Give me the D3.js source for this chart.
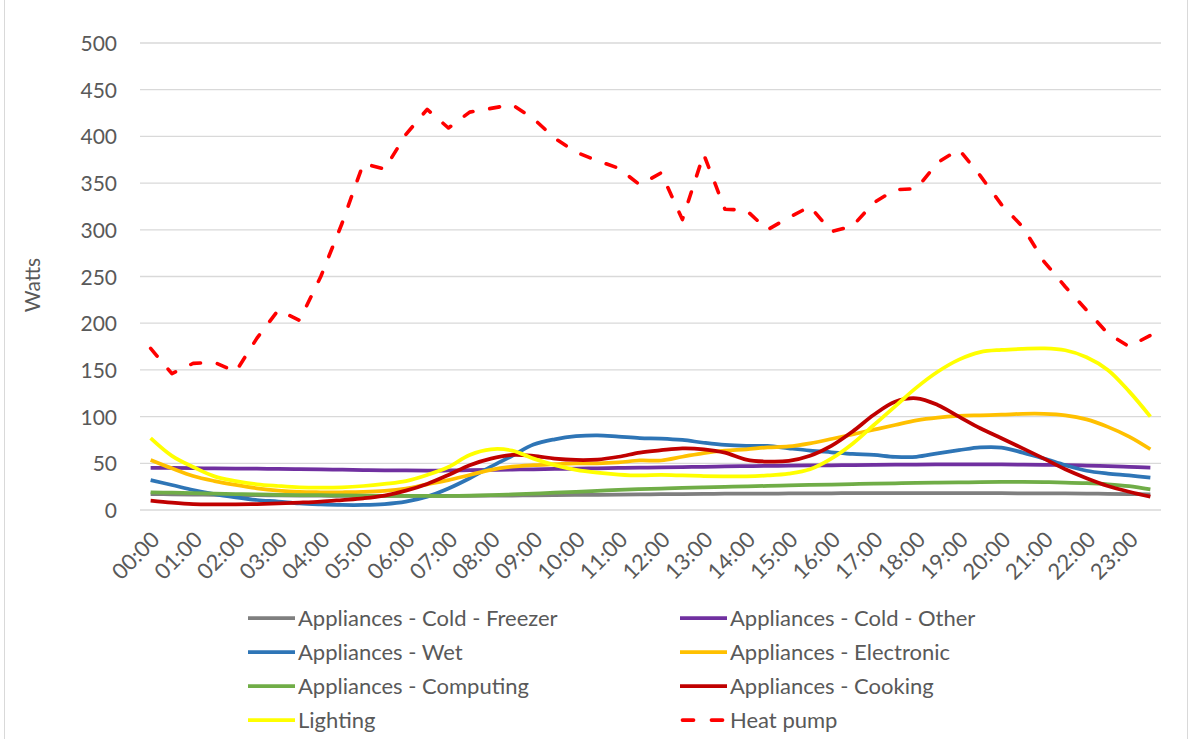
<!DOCTYPE html>
<html>
<head>
<meta charset="utf-8">
<script src="https://cdn.jsdelivr.net/npm/d3@7"></script>
<style>
  html, body { margin: 0; padding: 0; background: #fff; }
  svg { display: block; }
  text { font-family: Lato, "Open Sans", sans-serif; fill: #595959; }
</style>
</head>
<body>
<svg id="chart" width="1190" height="739"></svg>
<script>
// Half-hourly time slots across the day
const slots = ["00:00","00:30","01:00","01:30","02:00","02:30","03:00","03:30","04:00","04:30","05:00","05:30",
  "06:00","06:30","07:00","07:30","08:00","08:30","09:00","09:30","10:00","10:30","11:00","11:30",
  "12:00","12:30","13:00","13:30","14:00","14:30","15:00","15:30","16:00","16:30","17:00","17:30",
  "18:00","18:30","19:00","19:30","20:00","20:30","21:00","21:30","22:00","22:30","23:00","23:30"];

// Hourly labels shown on the x axis
const hourLabels = ["00:00","01:00","02:00","03:00","04:00","05:00","06:00","07:00","08:00","09:00","10:00","11:00",
  "12:00","13:00","14:00","15:00","16:00","17:00","18:00","19:00","20:00","21:00","22:00","23:00"];

const yTicks = [0, 50, 100, 150, 200, 250, 300, 350, 400, 450, 500];

// Average demand per end use (W)
const freezer = [17,16.8,16.5,16.2,16,15.8,15.6,15.4,15.3,15.2,15.1,15,15,15,15,15.1,15.3,15.5,15.7,15.9,16.1,16.3,16.5,16.7,
  16.9,17.1,17.3,17.4,17.5,17.6,17.7,17.8,17.9,18,18,18,18,18,18,18,18,17.9,17.8,17.7,17.5,17.3,17,16.8];

const coldOther = [45,45,44.8,44.6,44.4,44.2,44,43.8,43.5,43.2,42.8,42.5,42.3,42.2,42.3,42.6,43,43.3,43.6,44,44.3,44.6,45,45.3,
  45.6,46,46.3,46.6,47,47.2,47.5,47.7,47.9,48.1,48.3,48.5,48.7,48.8,48.9,48.9,48.8,48.6,48.4,48.1,47.6,47,46.3,45.5];

const wet = [32,26.8,21.4,17,13.6,10.7,9,7,6,5.4,5.4,6.4,9,14.3,23,34,46.4,58,70,75.7,79,80,78.6,77,
  76.5,75,72,69.6,68.6,68.6,66,63.6,61.8,60,59,57,57,60.7,64,67,66.8,61.4,55,48,42,39,37,34.6];

const electronic = [53.6,44.6,36.4,31,26.8,23.2,20.7,19.3,19,19,19.3,20.4,23,27.5,32,37.5,43,46.4,48,49,50,50,51,53,
  53,57,61,63.6,65,67,68,71.4,76,81,86,91,96,99,100.7,101.4,102,103,103,101.4,97,89,78.6,65];

const computing = [19,18.5,18,17.5,17,16.6,16.3,16,15.8,15.6,15.4,15.2,15.1,15,15,15.3,15.8,16.6,17.5,18.5,19.5,20.5,21.5,22.3,
  23,23.6,24.2,24.8,25.3,25.8,26.3,26.8,27.3,27.8,28.2,28.6,29,29.3,29.6,29.8,30,30,29.8,29.4,28.7,27.5,25.5,22];

const cooking = [10,7.9,6.4,6,6,6.4,7,7.9,9,10.7,12.5,15.4,20.7,27.9,37.5,48,55,59,58,55,53.6,54,57,61.4,
  64,66,65,61.4,54,51.8,52.5,58,68.6,84,102,116,119.6,112.5,100,87.5,76.8,66,55,43.6,34,25.7,19.6,14.3];

const lighting = [77,58,46,36,31,27.5,25.7,24.3,24,24.3,25.7,28,31,37.5,46,59,65,63.6,55,48,43,40,38,37,
  37.5,37,36.4,36,36,37,39,43.6,55,71,91,111,131,148,161,169,171.4,172.5,173,171,163.6,150,127,100];

const heatPump = [173,146,157,158,148,184,214,203,250,307,371,365,402,429,409,426,430,434,419,398,383,374,366,348,
  361,311,381,322,321,300,313,325,298,304,329,343,344,372,386,358,327,303,266,239,214,189,175,187];

const seriesNames = ["Appliances - Cold - Freezer","Appliances - Cold - Other","Appliances - Wet","Appliances - Electronic",
  "Appliances - Computing","Appliances - Cooking","Lighting","Heat pump"];
const seriesValues = [freezer, coldOther, wet, electronic, computing, cooking, lighting, heatPump];
const seriesColors = ["#7f7f7f","#7030a0","#2e75b6","#ffc000","#70ad47","#c00000","#ffff00","#ff0000"];

const series = seriesNames.map((name, k) => ({
  name, values: seriesValues[k], color: seriesColors[k], dashed: name === "Heat pump"
}));

const svg = d3.select("#chart");

// Chart frame
svg.append("rect")
  .attr("x", 4.5).attr("y", -2).attr("width", 1183).attr("height", 745)
  .attr("fill", "none").attr("stroke", "#d9d9d9").attr("stroke-width", 1);

const plot = { left: 140, right: 1161, top: 43, bottom: 510 };

const x = d3.scalePoint().domain(slots).range([plot.left, plot.right]).padding(0.5);
const y = d3.scaleLinear().domain([0, 500]).range([plot.bottom, plot.top]);

// Horizontal gridlines
svg.append("g")
  .selectAll("line")
  .data(yTicks)
  .join("line")
  .attr("x1", plot.left).attr("x2", plot.right)
  .attr("y1", d => y(d)).attr("y2", d => y(d))
  .attr("stroke", "#d9d9d9").attr("stroke-width", 1.3);

// Y axis labels
const yAxis = svg.append("g")
  .attr("transform", `translate(${plot.left},0)`)
  .call(d3.axisLeft(y).tickValues(yTicks).tickSize(0).tickPadding(23));
yAxis.select(".domain").remove();
yAxis.selectAll("text")
  .style("font-size", "21px")
  .style("font-family", "Lato, 'Open Sans', sans-serif")
  .attr("fill", "#595959")
  .attr("dy", "0.36em");

// X axis labels, rotated
const xAxis = svg.append("g")
  .attr("transform", `translate(0,${plot.bottom})`)
  .call(d3.axisBottom(x).tickValues(hourLabels).tickSize(0).tickPadding(0));
xAxis.select(".domain").remove();
xAxis.selectAll("text")
  .style("font-size", "22px")
  .style("font-family", "Lato, 'Open Sans', sans-serif")
  .attr("fill", "#595959")
  .attr("text-anchor", "end")
  .attr("y", 0).attr("dy", 0)
  .attr("transform", "translate(10,31) rotate(-45)");

// Y axis title
svg.append("text")
  .attr("transform", "translate(40,285) rotate(-90)")
  .attr("text-anchor", "middle")
  .style("font-size", "21px")
  .text("Watts");

// Series lines
const smooth = d3.line()
  .x((d, i) => x(slots[i]))
  .y(d => y(d))
  .curve(d3.curveCatmullRom.alpha(0.5));
const straight = d3.line()
  .x((d, i) => x(slots[i]))
  .y(d => y(d));

svg.append("g")
  .selectAll("path")
  .data(series)
  .join("path")
  .attr("d", s => s.dashed ? straight(s.values) : smooth(s.values))
  .attr("fill", "none")
  .attr("stroke", s => s.color)
  .attr("stroke-width", s => s.dashed ? 3.6 : 3.75)
  .attr("stroke-linecap", s => s.dashed ? "round" : "butt")
  .attr("stroke-linejoin", "round")
  .attr("stroke-dasharray", s => s.dashed ? "10 17" : null);

// Legend: two columns, four rows
const legend = svg.append("g");
const legendItems = legend.selectAll("g")
  .data(series)
  .join("g")
  .attr("transform", (s, i) => `translate(${i % 2 === 0 ? 248 : 680},${618 + Math.floor(i / 2) * 34})`);

legendItems.append("line")
  .attr("x1", s => s.dashed ? 2.5 : 0)
  .attr("x2", s => s.dashed ? 42.5 : 47)
  .attr("y1", 0).attr("y2", 0)
  .attr("stroke", s => s.color)
  .attr("stroke-width", 3.75)
  .attr("stroke-linecap", s => s.dashed ? "round" : "butt")
  .attr("stroke-dasharray", s => s.dashed ? "11 18" : null);

legendItems.append("text")
  .attr("x", 50).attr("y", 0).attr("dy", "0.35em")
  .style("font-size", "22px")
  .text(s => s.name);
</script>
</body>
</html>
